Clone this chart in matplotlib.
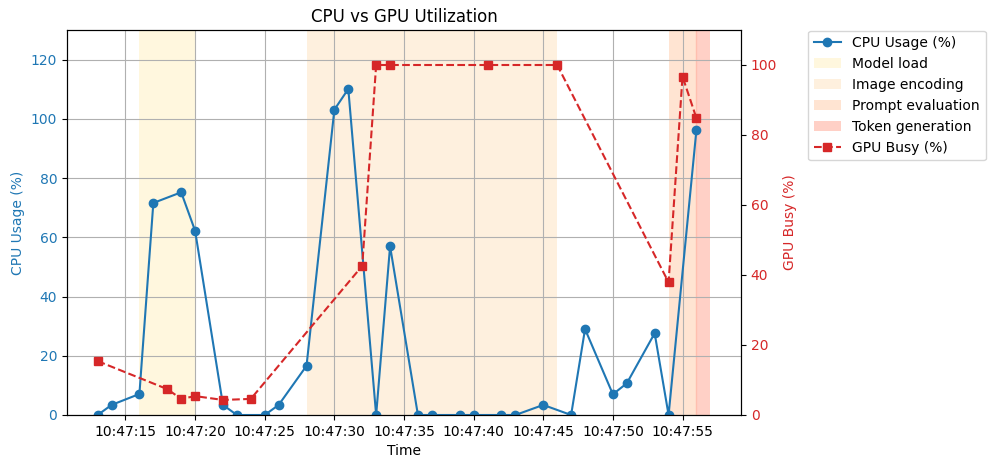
import matplotlib
matplotlib.use("Agg")
import matplotlib.pyplot as plt
import matplotlib.dates as mdates
from datetime import datetime, timedelta

base = datetime(2024, 1, 1, 10, 47, 0)

cpu_seconds = [13, 14, 16, 17, 19, 20, 22, 23, 25, 26, 28, 30, 31, 33, 34, 36, 37,
               39, 40, 42, 43, 45, 47, 48, 50, 51, 53, 54, 56]
cpu_values = [0, 3.4, 7.1, 71.6, 75.2, 62.2, 3.4, 0, 0, 3.4, 16.6, 103.1, 110.1, 0,
              57.0, 0, 0, 0, 0, 0, 0, 3.4, 0, 29.0, 7.0, 10.7, 27.6, 0, 96.3]

gpu_seconds = [13, 18, 19, 20, 22, 24, 32, 33, 34, 41, 46, 54, 55, 56]
gpu_values = [15.4, 7.4, 4.6, 5.4, 4.3, 4.6, 42.6, 100, 100, 100, 100, 37.9, 96.7, 84.8]

phase_names = ["Model load", "Image encoding", "Prompt evaluation", "Token generation"]
phase_starts = [16, 28, 54, 56]
phase_ends = [20, 46, 56, 57]
phase_colors = ["#FFF7DE", "#FEF0DE", "#FFE4D2", "#FFD0C6"]

def t(s):
    return base + timedelta(seconds=s)

fig = plt.figure(figsize=(9.96, 4.68), dpi=100)
ax1 = fig.add_axes([67/996, 1-415/468, (741-67)/996, (415-30)/468])
ax2 = ax1.twinx()

line1, = ax1.plot([t(s) for s in cpu_seconds], cpu_values, color="tab:blue",
                  marker="o", label="CPU Usage (%)")
spans = []
for name, s0, s1, c in zip(phase_names, phase_starts, phase_ends, phase_colors):
    spans.append(ax1.axvspan(t(s0), t(s1), color=c, label=name, lw=0))
# subtle boundary line between prompt evaluation and token generation
ax1.axvline(t(phase_starts[3]), color="#FFBFAF", lw=1, zorder=1.1)

line2, = ax2.plot([t(s) for s in gpu_seconds], gpu_values, color="tab:red",
                  marker="s", linestyle="--", label="GPU Busy (%)")

ax1.set_ylim(0, 130)
ax2.set_ylim(0, 110)
ax1.set_xlabel("Time")
ax1.set_ylabel("CPU Usage (%)", color="tab:blue")
ax2.set_ylabel("GPU Busy (%)", color="tab:red")
ax1.tick_params(axis="y", labelcolor="tab:blue")
ax2.tick_params(axis="y", labelcolor="tab:red")
ax1.xaxis.set_major_locator(mdates.SecondLocator(bysecond=range(0, 60, 5)))
ax1.xaxis.set_major_formatter(mdates.DateFormatter("%H:%M:%S"))
ax1.grid(True)
ax1.set_title("CPU vs GPU Utilization")

handles = [line1] + spans + [line2]
fig.legend(handles=handles, labels=[h.get_label() for h in handles],
           loc="upper left", bbox_to_anchor=(808/996, 1-30.5/468), borderaxespad=0)

fig.savefig("out.png", dpi=100)
